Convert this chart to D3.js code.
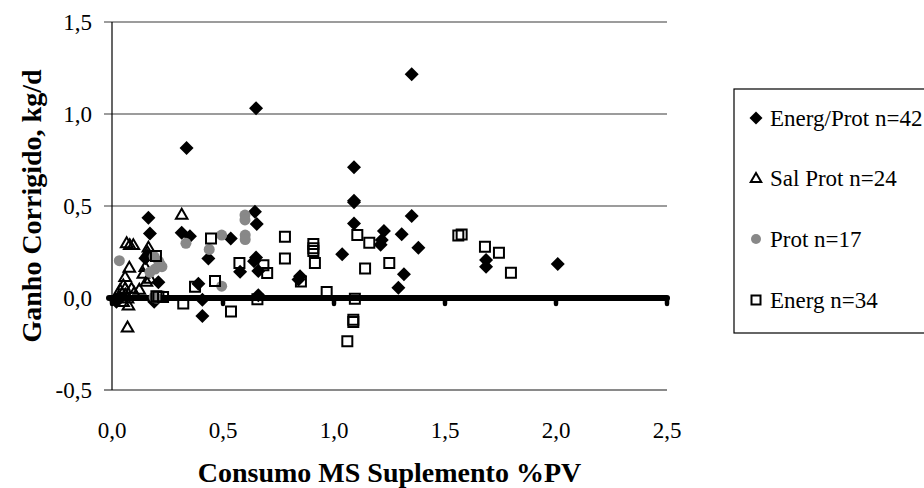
<!DOCTYPE html>
<html><head><meta charset="utf-8">
<script src="https://cdn.jsdelivr.net/npm/d3@7"></script>
<style>
body{margin:0;background:#fff}
svg{display:block}
svg text{font-family:"Liberation Serif","Times New Roman",Times,"DejaVu Serif",serif;}
</style>
</head><body>
<svg id="c" width="924" height="488"></svg>
<script>
const xTicks = [0, 0.5, 1.0, 1.5, 2.0, 2.5];
const yTicks = [-0.5, 0, 0.5, 1.0, 1.5];
const xTitle = "Consumo MS Suplemento %PV";
const yTitle = "Ganho Corrigido, kg/d";
const seriesNames = ["Energ/Prot n=42", "Sal Prot n=24", "Prot n=17", "Energ n=34"];

const energProt = [
  [0.164,0.436],[0.171,0.35],[0.15,0.216],[0.16,0.23],[0.209,0.085],[0.19,-0.02],
  [0.314,0.355],[0.351,0.335],[0.336,0.815],[0.389,0.078],[0.407,-0.098],[0.407,-0.01],
  [0.434,0.215],[0.535,0.324],[0.577,0.142],[0.644,0.469],[0.652,0.402],[0.649,0.22],
  [0.659,0.147],[0.659,0.015],[0.649,1.031],[0.847,0.118],[0.84,0.1],[1.037,0.238],
  [1.09,0.711],[1.09,0.529],[1.09,0.405],[1.215,0.315],[1.21,0.29],[1.225,0.364],
  [1.305,0.347],[1.35,0.445],[1.38,0.273],[1.315,0.129],[1.29,0.056],[1.35,1.216],
  [1.685,0.207],[1.685,0.17],[2.008,0.185],[0.64,0.2],[1.09,0.52],[0.02,-0.02]
];
const salProt = [
  [0.066,0.30],[0.08,0.29],[0.096,0.29],[0.164,0.276],[0.078,0.167],[0.059,0.116],
  [0.141,0.134],[0.171,0.107],[0.051,0.071],[0.059,0.053],[0.088,0.053],[0.123,0.047],
  [0.036,0.045],[0.074,-0.038],[0.07,-0.158],[0.314,0.455],[0.06,0.02],[0.07,0.0],
  [0.05,-0.02],[0.16,0.25],[0.15,0.17],[0.1,0.03],[0.155,0.09],[0.03,0.01]
];
const prot = [
  [0.033,0.203],[0.333,0.297],[0.438,0.264],[0.494,0.342],[0.494,0.064],[0.216,0.185],
  [0.194,0.157],[0.171,0.14],[0.2,0.0],[0.599,0.451],[0.599,0.424],[0.6,0.342],
  [0.6,0.318],[0.19,0.225],[0.21,0.2],[0.19,0.005],[0.225,0.17]
];
const energ = [
  [0.198,0.228],[0.209,0.007],[0.23,0.005],[0.321,-0.03],[0.374,0.061],[0.446,0.324],
  [0.464,0.093],[0.536,-0.073],[0.574,0.19],[0.655,-0.007],[0.682,0.178],[0.699,0.136],
  [0.779,0.333],[0.779,0.215],[0.851,0.09],[0.907,0.293],[0.907,0.255],[0.914,0.19],
  [0.967,0.033],[1.094,-0.004],[1.105,0.342],[1.159,0.3],[1.14,0.16],[1.249,0.19],
  [1.087,-0.118],[1.087,-0.13],[1.06,-0.235],[1.56,0.34],[1.575,0.345],[1.68,0.279],
  [1.743,0.246],[1.797,0.137],[0.907,0.27],[0.2,0.01]
];

const svg = d3.select("#c");
const x = d3.scaleLinear().domain([0, 2.5]).range([112, 667]);
const y = d3.scaleLinear().domain([-0.5, 1.5]).range([390, 22]);
const fmt = v => d3.format(".1f")(v).replace(".", ",").replace("\u2212", "-");

// gridlines
svg.append("g").selectAll("line").data(yTicks.filter(v => v !== 0)).join("line")
  .attr("x1", 104).attr("x2", x(2.5))
  .attr("y1", d => y(d)).attr("y2", d => y(d))
  .attr("stroke", d => d === -0.5 ? "#8a8a8a" : "#3a3a3a")
  .attr("stroke-width", d => d === -0.5 ? 2 : 1.2);

// y axis
svg.append("line").attr("x1", x(0)).attr("x2", x(0)).attr("y1", y(1.5)).attr("y2", y(-0.5))
  .attr("stroke", "#000").attr("stroke-width", 1.2);
svg.append("g").selectAll("text").data(yTicks).join("text")
  .attr("x", 92).attr("y", d => y(d)).attr("dy", "0.35em")
  .attr("text-anchor", "end").attr("font-size", 23)
  .text(fmt);

// x axis at y = 0 (thick)
svg.append("line").attr("x1", 109).attr("x2", x(2.5)).attr("y1", y(0)).attr("y2", y(0))
  .attr("stroke", "#000").attr("stroke-width", 6).attr("stroke-linecap", "round");
svg.append("g").selectAll("line").data(xTicks).join("line")
  .attr("x1", d => x(d)).attr("x2", d => x(d)).attr("y1", y(0)).attr("y2", y(0) + 6)
  .attr("stroke", "#000").attr("stroke-width", 4.5).attr("stroke-linecap", "round");
svg.append("g").selectAll("text").data(xTicks).join("text")
  .attr("x", d => x(d)).attr("y", 438)
  .attr("text-anchor", "middle").attr("font-size", 23)
  .text(fmt);

// titles
svg.append("text").attr("x", (x(0) + x(2.5)) / 2).attr("y", 482)
  .attr("text-anchor", "middle").attr("font-weight", "bold")
  .attr("font-size", 28).text(xTitle);
svg.append("text").attr("transform", `translate(41,${(y(1.5) + y(-0.5)) / 2}) rotate(-90)`)
  .attr("text-anchor", "middle").attr("font-weight", "bold")
  .attr("font-size", 28).text(yTitle);

// marker shapes
const pathFor = (s, r) => {
  if (s === "diamond") return `M0,${-r}L${r},0L0,${r}L${-r},0Z`;
  if (s === "triangle") return `M0,${-r}L${r * 1.05},${r * 0.8}L${-r * 1.05},${r * 0.8}Z`;
  if (s === "circle") return `M${r},0A${r},${r},0,1,1,${-r},0A${r},${r},0,1,1,${r},0Z`;
  return `M${-r},${-r}H${r}V${r}H${-r}Z`;
};
const styles = [
  {data: energProt, shape: "diamond", r: 7, fill: "#000", stroke: "none", sw: 0},
  {data: salProt, shape: "triangle", r: 5.5, fill: "none", stroke: "#000", sw: 2},
  {data: prot, shape: "circle", r: 5.5, fill: "#888", stroke: "none", sw: 0},
  {data: energ, shape: "square", r: 5, fill: "none", stroke: "#000", sw: 2}
];

styles.forEach(s => {
  svg.append("g").selectAll("path").data(s.data).join("path")
    .attr("transform", d => `translate(${x(d[0])},${y(d[1])})`)
    .attr("d", pathFor(s.shape, s.r))
    .attr("fill", s.fill).attr("stroke", s.stroke).attr("stroke-width", s.sw);
});

// legend
const lg = svg.append("g");
lg.append("rect").attr("x", 734).attr("y", 89).attr("width", 200).attr("height", 244)
  .attr("fill", "#fff").attr("stroke", "#000").attr("stroke-width", 1.2);
const legY = [118, 178, 239, 300];
styles.forEach((s, i) => {
  lg.append("path").attr("transform", `translate(756,${legY[i]})`)
    .attr("d", pathFor(s.shape, s.shape === "diamond" ? 6.5 : s.shape === "square" ? 4.5 : 5))
    .attr("fill", s.fill).attr("stroke", s.stroke).attr("stroke-width", s.sw);
  lg.append("text").attr("x", 770).attr("y", legY[i]).attr("dy", "0.35em")
    .attr("font-size", 23).text(seriesNames[i]);
});
</script>
</body></html>
